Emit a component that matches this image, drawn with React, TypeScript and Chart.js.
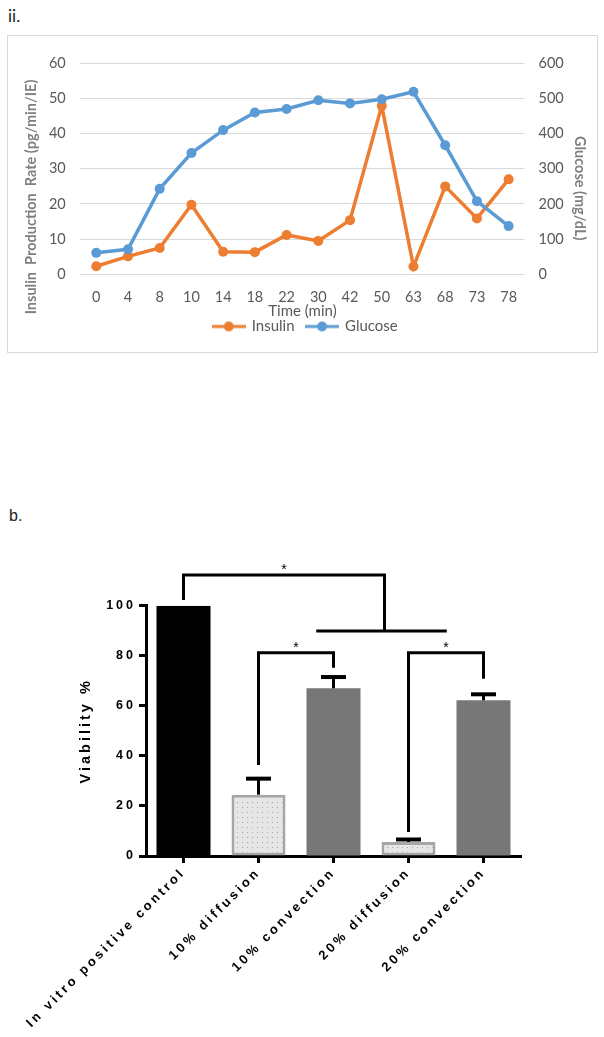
import React, { useEffect, useRef } from 'react';
import { Chart, registerables } from 'chart.js';
Chart.register(...registerables);

// ---------- Panel ii: insulin / glucose ----------
const timeLabels = ['0', '4', '8', '10', '14', '18', '22', '30', '42', '50', '63', '68', '73', '78'];
const insulinValues = [2.3, 5.1, 7.5, 19.8, 6.4, 6.3, 11.2, 9.5, 15.4, 47.9, 2.2, 25, 15.9, 27];
const glucoseValues = [61, 71, 243, 345, 410, 460, 470, 495, 486, 498, 519, 367, 208, 137];

// ---------- Panel b: viability ----------
const groupLabels = ['In vitro positive control', '10% diffusion', '10% convection', '20% diffusion', '20% convection'];
const viabilityMeans = [100, 24.5, 67, 5.6, 62.2];
const viabilityErrors = [0, 6.4, 4.5, 1.0, 2.4];

// significance brackets in data units (category index, viability %)
const bracketStart = [0, 1, 3];
const bracketEnd = [2.68, 2, 4];
const bracketLeftFoot = [102.3, 36.4, 9.6];
const bracketTop = [112.3, 81.2, 81.2];
const bracketRightFoot = [89.9, 75.2, 70.8];
const groupLineFrom = 1.77;
const groupLineTo = 3.51;
const groupLineLevel = 89.9;

const ORANGE = '#ED7D31';
const BLUE = '#5B9BD5';
const ARIAL = '"Liberation Sans", Arial, sans-serif';

function makeMarker(color: string) {
  const c = document.createElement('canvas');
  c.width = 34;
  c.height = 12;
  const g = c.getContext('2d')!;
  g.strokeStyle = color;
  g.lineWidth = 3;
  g.beginPath();
  g.moveTo(0, 6);
  g.lineTo(34, 6);
  g.stroke();
  g.fillStyle = color;
  g.beginPath();
  g.arc(17, 6, 5, 0, Math.PI * 2);
  g.fill();
  return c;
}

function makeLineChart(canvas: HTMLCanvasElement) {
  const markers = [makeMarker(ORANGE), makeMarker(BLUE)];
  return new Chart(canvas, {
    type: 'line',
    data: {
      labels: timeLabels,
      datasets: [
        {
          label: 'Insulin',
          data: insulinValues,
          yAxisID: 'y',
          borderColor: ORANGE,
          backgroundColor: ORANGE,
          pointBackgroundColor: ORANGE,
          pointBorderWidth: 0,
          pointRadius: 5,
          borderWidth: 3.5,
          order: 1,
        },
        {
          label: 'Glucose',
          data: glucoseValues,
          yAxisID: 'y1',
          borderColor: BLUE,
          backgroundColor: BLUE,
          pointBackgroundColor: BLUE,
          pointBorderWidth: 0,
          pointRadius: 5,
          borderWidth: 3.5,
          order: 0,
        },
      ],
    },
    options: {
      responsive: false,
      animation: false,
      events: [],
      layout: { padding: { left: 11.3, right: 5.3, top: 27.3, bottom: 8 } },
      plugins: {
        tooltip: { enabled: false },
        legend: {
          position: 'bottom',
          labels: {
            usePointStyle: true,
            pointStyleWidth: 31,
            boxHeight: 12,
            padding: 12,
            color: '#595959',
            font: { family: 'Lato', size: 15 },
            generateLabels: (chart: any) =>
              [0, 1].map((i) => ({
                text: chart.data.datasets[i].label,
                pointStyle: markers[i],
                fillStyle: chart.data.datasets[i].borderColor,
                strokeStyle: chart.data.datasets[i].borderColor,
                lineWidth: 0,
                hidden: false,
                datasetIndex: i,
                fontColor: '#595959',
              })),
          },
        },
      },
      scales: {
        x: {
          offset: true,
          grid: { display: false },
          border: { display: false },
          ticks: { color: '#595959', font: { family: 'Lato', size: 14.5 }, padding: 6, autoSkip: false, maxRotation: 0 },
          title: {
            display: true,
            text: 'Time (min)',
            color: '#595959',
            font: { family: 'Lato', size: 15 },
            padding: { top: 0, bottom: -12.8 },
          },
          afterFit: (s: any) => {
            s.height = 32.7;
          },
        },
        y: {
          position: 'left',
          min: 0,
          max: 60,
          ticks: { stepSize: 10, color: '#595959', font: { family: 'Lato', size: 14.5 }, padding: 14.7 },
          grid: { color: '#d9d9d9', lineWidth: 1, drawTicks: false },
          border: { display: false },
          title: {
            display: true,
            text: 'Insulin  Production  Rate (pg/min/IE)                ',
            color: '#7f7f7f',
            font: { family: 'Lato', size: 14.5, weight: 'bold' },
            padding: { top: 3, bottom: 3 },
          },
          afterFit: (s: any) => {
            s.width = 61.1;
          },
        },
        y1: {
          position: 'right',
          min: 0,
          max: 600,
          ticks: { stepSize: 100, color: '#595959', font: { family: 'Lato', size: 14.5 }, padding: 14 },
          grid: { drawOnChartArea: false, drawTicks: false },
          border: { display: false },
          title: {
            display: true,
            text: '           Glucose (mg/dL)',
            color: '#7f7f7f',
            font: { family: 'Lato', size: 14.5, weight: 'bold' },
            padding: { top: 3, bottom: 3 },
          },
          afterFit: (s: any) => {
            s.width = 67.2;
          },
        },
      },
    } as any,
  });
}

const spacingPlugin = {
  id: 'letterSpacing',
  beforeUpdate(chart: any) {
    chart.ctx.letterSpacing = '3px';
  },
  beforeDraw(chart: any) {
    chart.ctx.letterSpacing = '3px';
  },
};

const annotationPlugin = {
  id: 'errorsAndBrackets',
  afterDatasetsDraw(chart: any) {
    const { ctx, scales } = chart;
    const x = scales.x;
    const y = scales.y;
    ctx.save();
    ctx.letterSpacing = '0px';
    ctx.strokeStyle = '#000';
    ctx.lineCap = 'butt';
    // error bars (upper only)
    viabilityMeans.forEach((m, i) => {
      const e = viabilityErrors[i];
      if (!e) return;
      const px = x.getPixelForValue(i);
      const y0 = y.getPixelForValue(m);
      const y1 = y.getPixelForValue(m + e);
      ctx.lineWidth = 3;
      ctx.beginPath();
      ctx.moveTo(px, y0);
      ctx.lineTo(px, y1);
      ctx.stroke();
      ctx.lineWidth = 4;
      ctx.beginPath();
      ctx.moveTo(px - 12.5, y1);
      ctx.lineTo(px + 12.5, y1);
      ctx.stroke();
    });
    // brackets
    ctx.lineWidth = 3;
    ctx.lineJoin = 'miter';
    ctx.fillStyle = '#000';
    ctx.font = `14px ${ARIAL}`;
    ctx.textAlign = 'center';
    ctx.textBaseline = 'middle';
    bracketStart.forEach((s, i) => {
      const xa = x.getPixelForValue(s);
      const xb = x.getPixelForValue(bracketEnd[i]);
      const yTop = y.getPixelForValue(bracketTop[i]);
      ctx.beginPath();
      ctx.moveTo(xa, y.getPixelForValue(bracketLeftFoot[i]));
      ctx.lineTo(xa, yTop);
      ctx.lineTo(xb, yTop);
      ctx.lineTo(xb, y.getPixelForValue(bracketRightFoot[i]));
      ctx.stroke();
      ctx.fillText('*', (xa + xb) / 2, yTop - 5);
    });
    const gy = y.getPixelForValue(groupLineLevel);
    ctx.beginPath();
    ctx.moveTo(x.getPixelForValue(groupLineFrom), gy);
    ctx.lineTo(x.getPixelForValue(groupLineTo), gy);
    ctx.stroke();
    ctx.restore();
  },
};

function makeBarChart(canvas: HTMLCanvasElement) {
  const pc = document.createElement('canvas');
  pc.width = 5;
  pc.height = 5;
  const pg = pc.getContext('2d')!;
  pg.fillStyle = '#e6e6e6';
  pg.fillRect(0, 0, 5, 5);
  pg.fillStyle = '#a8a8a8';
  pg.fillRect(2, 2, 1, 1);
  const pattern = canvas.getContext('2d')!.createPattern(pc, 'repeat');
  return new Chart(canvas, {
    type: 'bar',
    data: {
      labels: groupLabels,
      datasets: [
        {
          data: viabilityMeans,
          backgroundColor: ['#000000', pattern, '#777777', pattern, '#777777'],
          borderColor: ['#000000', '#a6a6a6', '#777777', '#a6a6a6', '#777777'],
          borderWidth: [0, 3, 0, 3, 0],
          borderSkipped: false,
          categoryPercentage: 1,
          barPercentage: 0.72,
        },
      ],
    },
    options: {
      responsive: false,
      animation: false,
      events: [],
      layout: { padding: { left: 73, right: 83, top: 75.7, bottom: 0 } },
      plugins: { legend: { display: false }, tooltip: { enabled: false } },
      scales: {
        x: {
          offset: true,
          grid: { offset: false, drawOnChartArea: false, tickLength: 7, tickWidth: 3, tickColor: '#000' },
          border: { display: true, width: 3, color: '#000' },
          ticks: {
            autoSkip: false,
            minRotation: 45,
            maxRotation: 45,
            color: '#000',
            font: { family: ARIAL, size: 13, weight: 'bold' },
            padding: 2,
          },
          afterFit: (s: any) => {
            s.height = 181;
            s.paddingLeft = 0;
            s.paddingRight = 0;
          },
        },
        y: {
          min: 0,
          max: 100,
          ticks: { stepSize: 20, color: '#000', font: { family: ARIAL, size: 12.5, weight: 'bold' }, padding: 3 },
          grid: { drawOnChartArea: false, tickLength: 7, tickWidth: 3, tickColor: '#000' },
          border: { display: true, width: 3, color: '#000' },
          title: {
            display: true,
            text: 'Viability %',
            color: '#000',
            font: { family: ARIAL, size: 14.5, weight: 'bold' },
            padding: { top: 4, bottom: 4 },
          },
          afterFit: (s: any) => {
            s.width = 73;
          },
        },
      },
    } as any,
    plugins: [spacingPlugin, annotationPlugin],
  });
}

export default function App() {
  const lineRef = useRef<HTMLCanvasElement>(null);
  const barRef = useRef<HTMLCanvasElement>(null);
  useEffect(() => {
    const c1 = makeLineChart(lineRef.current!);
    const c2 = makeBarChart(barRef.current!);
    return () => {
      c1.destroy();
      c2.destroy();
    };
  }, []);
  return (
    <div style={{ position: 'absolute', left: 0, top: 0, width: 604, height: 1037, background: '#fff' }}>
      <div style={{ position: 'absolute', left: 8, top: 6, fontSize: 17, fontFamily: 'Lato', color: '#222', lineHeight: '20px' }}>ii.</div>
      <div
        style={{
          position: 'absolute',
          left: 7,
          top: 35,
          width: 591,
          height: 318,
          border: '1px solid #d9d9d9',
          boxSizing: 'border-box',
        }}
      />
      <canvas ref={lineRef} width={589} height={316} style={{ position: 'absolute', left: 8, top: 36, width: 589, height: 316 }} />
      <div style={{ position: 'absolute', left: 9, top: 506, fontSize: 16, fontFamily: ARIAL, color: '#222', lineHeight: '20px' }}>b.</div>
      <canvas ref={barRef} width={604} height={507} style={{ position: 'absolute', left: 0, top: 530, width: 604, height: 507 }} />
    </div>
  );
}
